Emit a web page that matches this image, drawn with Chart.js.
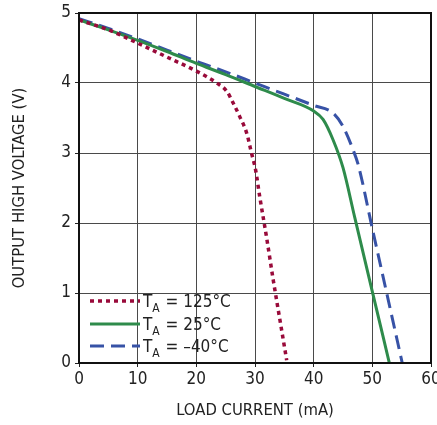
<!DOCTYPE html>
<html>
<head>
<meta charset="utf-8">
<script src="https://cdn.jsdelivr.net/npm/chart.js@4"></script>
<style>
  html, body { margin: 0; padding: 0; background: #fff; }
  #wrap { width: 437px; height: 425px; }
</style>
</head>
<body>
<div id="wrap"><canvas id="c" width="437" height="425"></canvas></div>
<script>
// Output high voltage vs load current at three ambient temperatures
const hotCurrent  = [0, 5, 10, 15, 20, 23.5, 25.2, 26.3, 27.4, 28.6, 29.4, 30.1, 30.8, 32, 33.1, 34.3, 35.4];
const hotVoltage  = [4.9, 4.76, 4.57, 4.37, 4.17, 4.0, 3.88, 3.71, 3.52, 3.28, 3.0, 2.76, 2.38, 1.78, 1.19, 0.59, 0.04];

const roomCurrent = [0, 5, 10, 15, 20, 25, 30, 35, 40, 41.6, 43.3, 45, 47, 50, 52.9];
const roomVoltage = [4.9, 4.76, 4.61, 4.45, 4.28, 4.12, 3.95, 3.78, 3.6, 3.48, 3.19, 2.79, 2.08, 1.02, 0];

const coldCurrent = [0, 5, 10, 15, 20, 25, 30, 35, 40, 43.3, 45, 46.7, 47.6, 50, 52.5, 55.1];
const coldVoltage = [4.92, 4.78, 4.63, 4.47, 4.31, 4.16, 4.0, 3.84, 3.68, 3.57, 3.38, 3.05, 2.83, 1.92, 0.98, 0];

const xTicks = [0, 10, 20, 30, 40, 50, 60];
const yTicks = [0, 1, 2, 3, 4, 5];

const seriesLabels = ['125°C', '25°C', '–40°C'];
const seriesColors = ['#990a3a', '#2e8b4b', '#3752a6'];
const seriesDashes = [[4, 4], [], [14, 7]];

const FONT = "'DejaVu Sans Condensed', 'Liberation Sans Narrow', 'Liberation Sans', sans-serif";

function pts(xs, ys) { return xs.map((x, i) => ({ x: x, y: ys[i] })); }

const datasets = [
  pts(hotCurrent, hotVoltage),
  pts(roomCurrent, roomVoltage),
  pts(coldCurrent, coldVoltage)
].map((data, i) => ({
  label: seriesLabels[i],
  data: data,
  borderColor: seriesColors[i],
  borderWidth: i === 0 ? 3.5 : 3,
  borderDash: seriesDashes[i],
  pointRadius: 0,
  fill: false,
  cubicInterpolationMode: 'monotone'
}));

// Full black frame around the plot area
const framePlugin = {
  id: 'frame',
  afterDraw(chart) {
    const a = chart.chartArea;
    const ctx = chart.ctx;
    ctx.save();
    ctx.strokeStyle = '#111';
    ctx.lineWidth = 2;
    ctx.strokeRect(a.left, a.top, a.right - a.left, a.bottom - a.top);
    ctx.restore();
  }
};

// Legend with subscripted "T_A" drawn inside the plot area
const legendPlugin = {
  id: 'taLegend',
  afterDatasetsDraw(chart) {
    const ctx = chart.ctx;
    const a = chart.chartArea;
    const x0 = a.left + 11, x1 = a.left + 61;
    const rows = [a.bottom - 62, a.bottom - 39, a.bottom - 17];
    ctx.save();
    rows.forEach((y, i) => {
      ctx.beginPath();
      ctx.strokeStyle = seriesColors[i];
      ctx.lineWidth = i === 0 ? 3.5 : 3;
      ctx.setLineDash(seriesDashes[i]);
      ctx.moveTo(x0, y);
      ctx.lineTo(x1, y);
      ctx.stroke();
      ctx.setLineDash([]);
      ctx.fillStyle = '#222';
      ctx.textBaseline = 'alphabetic';
      ctx.textAlign = 'left';
      let tx = x1 + 3;
      const base = y + 6;
      ctx.font = '17px ' + FONT;
      ctx.fillText('T', tx, base);
      tx += ctx.measureText('T').width;
      ctx.font = '12px ' + FONT;
      ctx.fillText('A', tx, base + 5);
      tx += ctx.measureText('A').width + 1;
      ctx.font = '17px ' + FONT;
      ctx.fillText(' = ' + seriesLabels[i], tx, base);
    });
    ctx.restore();
  }
};

new Chart(document.getElementById('c'), {
  type: 'line',
  data: { datasets: datasets },
  plugins: [legendPlugin, framePlugin],
  options: {
    responsive: false,
    animation: false,
    layout: { padding: { top: 13, right: 6, left: 0, bottom: 0 } },
    plugins: { legend: { display: false }, tooltip: { enabled: false } },
    scales: {
      x: {
        type: 'linear',
        min: 0, max: 60,
        afterBuildTicks(s) { s.ticks = xTicks.map(v => ({ value: v })); },
        afterFit(s) { s.height = 62; s.paddingLeft = 0; s.paddingRight = 0; },
        grid: { color: '#4a4a4a', lineWidth: 1, tickLength: 4, tickColor: '#222' },
        border: { color: '#111', width: 2 },
        ticks: { color: '#222', font: { family: FONT, size: 17 }, padding: 2, maxRotation: 0 },
        title: { display: true, text: 'LOAD CURRENT (mA)', color: '#222', font: { family: FONT, size: 16.5 }, padding: { top: 3 } }
      },
      y: {
        type: 'linear',
        min: 0, max: 5,
        afterBuildTicks(s) { s.ticks = yTicks.map(v => ({ value: v })); },
        afterFit(s) { s.width = 79; s.paddingTop = 0; s.paddingBottom = 0; },
        grid: { color: '#4a4a4a', lineWidth: 1, tickLength: 4, tickColor: '#222' },
        border: { color: '#111', width: 2 },
        ticks: { color: '#222', font: { family: FONT, size: 17 }, padding: 4 },
        title: { display: true, text: 'OUTPUT HIGH VOLTAGE (V)', color: '#222', font: { family: FONT, size: 16.5 }, padding: { top: 10, bottom: 8 } }
      }
    }
  }
});
</script>
</body>
</html>
